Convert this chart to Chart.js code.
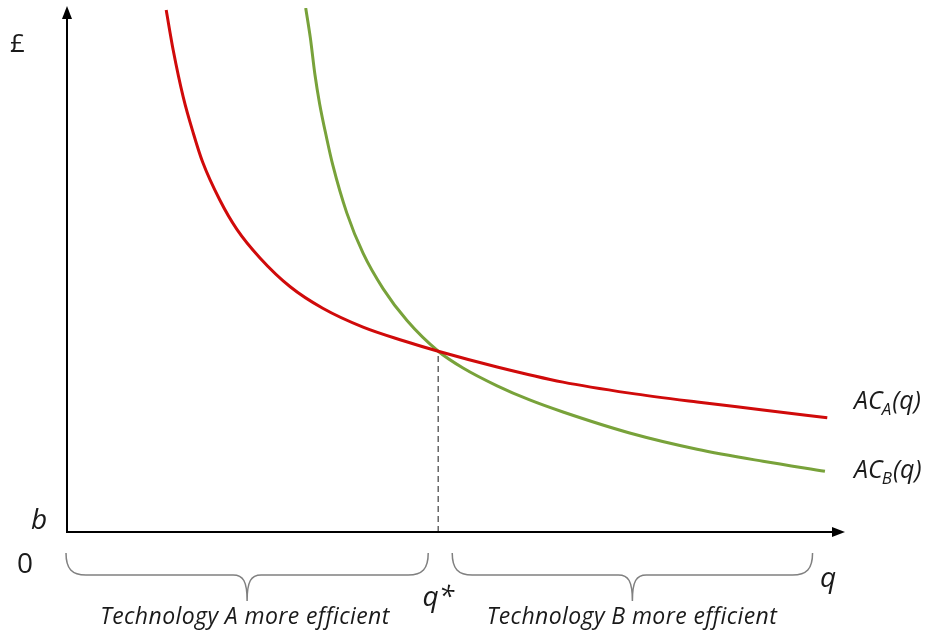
<!DOCTYPE html>
<html>
<head>
<meta charset="utf-8">
<script src="https://cdn.jsdelivr.net/npm/chart.js@4"></script>
<style>
  html, body { margin: 0; padding: 0; background: #fff; }
  #wrap { width: 946px; height: 634px; }
</style>
</head>
<body>
<div id="wrap"><canvas id="chart"></canvas></div>
<script>
// quantity / average cost (axes run 0..100)
const qA = [12.8, 13.7, 15.0, 16.3, 17.5, 19.7, 21.9, 24.9, 28.8, 33.0, 38.2, 43.4, 47.9, 55.5, 64.0, 72.6, 81.3, 89.8, 98.1];
const acA = [99.6, 92.0, 83.0, 76.1, 70.6, 63.4, 57.8, 52.3, 46.8, 42.7, 39.1, 36.5, 34.5, 31.5, 28.6, 26.5, 24.8, 23.3, 21.8];
const qB = [30.8, 31.4, 32.0, 32.6, 33.5, 34.3, 36.1, 38.2, 40.8, 43.9, 47.9, 51.1, 55.5, 59.7, 64.0, 72.6, 81.3, 89.8, 97.8];
const acB = [100, 94.3, 87.2, 81.7, 75.2, 70.0, 60.9, 53.2, 46.4, 40.3, 34.5, 31.3, 27.9, 25.2, 22.9, 18.9, 15.8, 13.5, 11.6];
const qStar = 47.9;
const acStar = 34.5;

const FONT = "'Open Sans', sans-serif";

const diagram = {
  id: "diagram",
  afterDatasetsDraw(chart) {
    const { ctx, scales: { x, y } } = chart;
    const x0 = x.getPixelForValue(0), y0 = y.getPixelForValue(0);
    const xEnd = x.getPixelForValue(100) + 1, yTop = y.getPixelForValue(100);
    ctx.save();

    // axes with arrow heads
    ctx.strokeStyle = "#000";
    ctx.fillStyle = "#000";
    ctx.lineWidth = 2;
    ctx.beginPath();
    ctx.moveTo(x0, y0 + 1);
    ctx.lineTo(x0, yTop + 8);
    ctx.moveTo(x0 - 1, y0);
    ctx.lineTo(xEnd - 8, y0);
    ctx.stroke();
    ctx.beginPath();
    ctx.moveTo(x0, yTop - 2);
    ctx.lineTo(x0 - 5, yTop + 11);
    ctx.lineTo(x0 + 5, yTop + 11);
    ctx.closePath();
    ctx.fill();
    ctx.beginPath();
    ctx.moveTo(xEnd + 2, y0);
    ctx.lineTo(xEnd - 11, y0 - 5);
    ctx.lineTo(xEnd - 11, y0 + 5);
    ctx.closePath();
    ctx.fill();

    // braces under the q axis
    const brace = (a, b) => {
      const mid = (a + b) / 2, top = y0 + 21, low = y0 + 43, tip = y0 + 69;
      ctx.beginPath();
      ctx.moveTo(a, top);
      ctx.bezierCurveTo(a, low - 6, a + 6, low, a + 20, low);
      ctx.lineTo(mid - 14, low);
      ctx.bezierCurveTo(mid - 4, low, mid, low + 6, mid, tip);
      ctx.bezierCurveTo(mid, low + 6, mid + 4, low, mid + 14, low);
      ctx.lineTo(b - 20, low);
      ctx.bezierCurveTo(b - 6, low, b, low - 6, b, top);
      ctx.stroke();
    };
    ctx.strokeStyle = "#808080";
    ctx.lineWidth = 1.5;
    brace(x0 - 1, x.getPixelForValue(qStar) - 10);
    brace(x.getPixelForValue(qStar) + 14, x.getPixelForValue(96.2));

    // labels
    ctx.fillStyle = "#1a1a1a";
    ctx.textBaseline = "alphabetic";
    ctx.textAlign = "left";
    ctx.font = "26px " + FONT;
    ctx.fillText("£", 10, 52);
    ctx.font = "28px " + FONT;
    ctx.fillText("0", 17, 573);
    ctx.font = "italic 28px " + FONT;
    ctx.fillText("b", 31, 529);
    ctx.fillText("q", 820, 587);
    ctx.textAlign = "center";
    ctx.fillText("q*", x.getPixelForValue(qStar), 606);

    ctx.font = "italic 23px " + FONT;
    ctx.letterSpacing = "0.4px";
    ctx.fillText("Technology A more efficient", 245, 624);
    ctx.fillText("Technology B more efficient", 632, 624);
    ctx.letterSpacing = "0px";

    const acLabel = (sub, px, py) => {
      ctx.textAlign = "left";
      ctx.font = "italic 25px " + FONT;
      ctx.fillText("AC", px, py);
      let w = ctx.measureText("AC").width;
      ctx.font = "italic 17px " + FONT;
      ctx.fillText(sub, px + w - 1, py + 6);
      w += ctx.measureText(sub).width;
      ctx.font = "italic 25px " + FONT;
      ctx.fillText("(q)", px + w, py);
    };
    acLabel("A", 854, 409);
    acLabel("B", 854, 478);
    ctx.restore();
  }
};

new Chart(document.getElementById("chart"), {
  type: "line",
  data: {
    datasets: [
      {
        label: "ACA(q)",
        data: qA.map((q, i) => ({ x: q, y: acA[i] })),
        borderColor: "#d00a0a",
        borderWidth: 3,
        pointRadius: 0,
        cubicInterpolationMode: "monotone"
      },
      {
        label: "ACB(q)",
        data: qB.map((q, i) => ({ x: q, y: acB[i] })),
        borderColor: "#78a23a",
        borderWidth: 3,
        pointRadius: 0,
        cubicInterpolationMode: "monotone"
      },
      {
        label: "q*",
        data: [{ x: qStar, y: 0 }, { x: qStar, y: acStar }],
        borderColor: "#666",
        borderWidth: 1.5,
        borderDash: [6, 4],
        pointRadius: 0
      }
    ]
  },
  options: {
    responsive: true,
    maintainAspectRatio: false,
    animation: false,
    layout: { padding: { left: 67, right: 104, top: 8, bottom: 102 } },
    scales: {
      x: { type: "linear", min: 0, max: 100, display: false },
      y: { type: "linear", min: 0, max: 100, display: false }
    },
    plugins: {
      legend: { display: false },
      tooltip: { enabled: false }
    }
  },
  plugins: [diagram]
});
</script>
</body>
</html>
